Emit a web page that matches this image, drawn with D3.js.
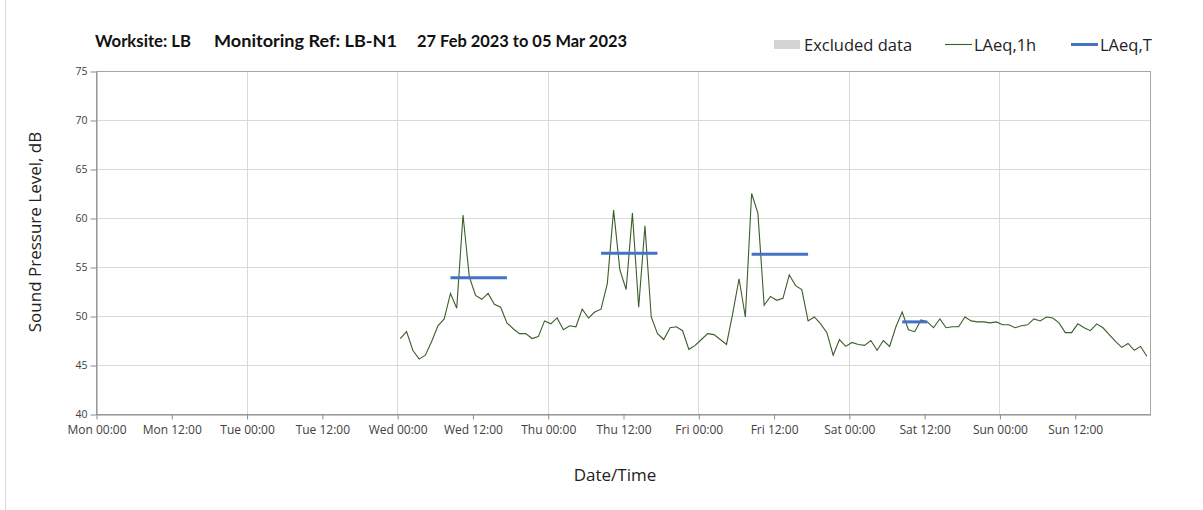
<!DOCTYPE html>
<html>
<head>
<meta charset="utf-8">
<script src="https://cdn.jsdelivr.net/npm/d3@7"></script>
<style>
  body { margin: 0; background: #fff; }
  svg { display: block; font-family: "Open Sans", "Noto Sans", sans-serif; }
</style>
</head>
<body>
<svg id="chart" width="1203" height="510"></svg>
<script>
// hourly LAeq,1h values, first value Wed 01 Mar 00:00 (plotted mid-hour)
const firstHour = "2023-03-01T00:30:00";
const laeq1h = [
  47.7, 48.4, 46.5, 45.6, 46.0, 47.4, 49.0, 49.7, 52.3, 50.8, 60.3, 54.0,
  52.1, 51.7, 52.3, 51.2, 50.9, 49.3, 48.7, 48.2, 48.2, 47.7, 47.9, 49.5,
  49.2, 49.8, 48.6, 49.0, 48.9, 50.7, 49.8, 50.4, 50.7, 53.3, 60.8, 54.7,
  52.7, 60.5, 50.9, 59.2, 49.9, 48.2, 47.6, 48.8, 48.9, 48.5, 46.6, 47.0,
  47.6, 48.2, 48.1, 47.6, 47.1, 50.3, 53.8, 49.9, 62.5, 60.5, 51.1, 52.0,
  51.6, 51.8, 54.2, 53.1, 52.7, 49.5, 49.9, 49.2, 48.3, 46.0, 47.6, 46.9,
  47.3, 47.1, 47.0, 47.5, 46.5, 47.5, 46.9, 48.9, 50.4, 48.6, 48.4, 49.6,
  49.4, 48.8, 49.7, 48.8, 48.9, 48.9, 49.9, 49.5, 49.4, 49.4, 49.3, 49.4,
  49.1, 49.1, 48.8, 49.0, 49.1, 49.7, 49.5, 49.9, 49.8, 49.3, 48.3, 48.3,
  49.2, 48.8, 48.5, 49.2, 48.8, 48.1, 47.4, 46.8, 47.2, 46.5, 46.9, 45.9
];

// LAeq,T working-hour periods
const periodStart = ["2023-03-01T08:30:00", "2023-03-02T08:30:00", "2023-03-03T08:30:00", "2023-03-04T08:30:00"];
const periodEnd   = ["2023-03-01T17:30:00", "2023-03-02T17:30:00", "2023-03-03T17:30:00", "2023-03-04T12:30:00"];
const laeqT = [53.9, 56.4, 56.3, 49.4];

const xDomain = ["2023-02-27T00:00:00", "2023-03-06T00:00:00"];
const yTicks = [40, 45, 50, 55, 60, 65, 70, 75];

const titleParts = ["Worksite: LB", "Monitoring Ref: LB-N1", "27 Feb 2023 to 05 Mar 2023"];
const legendLabels = ["Excluded data", "LAeq,1h", "LAeq,T"];

const svg = d3.select("#chart");
const plot = { left: 96, right: 1150, top: 71, bottom: 414 };

const x = d3.scaleTime()
  .domain(xDomain.map(d => new Date(d)))
  .range([plot.left, plot.right]);
const y = d3.scaleLinear().domain([40, 75]).range([plot.bottom, plot.top]);

const start = new Date(firstHour);
const series = laeq1h.map((v, i) => ({ t: d3.timeHour.offset(start, i), v }));

// outer left edge line
svg.append("line")
  .attr("x1", 5.5).attr("x2", 5.5).attr("y1", 0).attr("y2", 510)
  .attr("stroke", "#d9d9d9");

// gridlines
const dayTicks = d3.timeDay.range(x.domain()[0], x.domain()[1]).slice(1);
svg.append("g").selectAll("line").data(dayTicks).join("line")
  .attr("x1", d => Math.round(x(d)) + 0.5).attr("x2", d => Math.round(x(d)) + 0.5)
  .attr("y1", plot.top).attr("y2", plot.bottom)
  .attr("stroke", "#d9d9d9");
svg.append("g").selectAll("line").data(yTicks.slice(1, -1)).join("line")
  .attr("x1", plot.left).attr("x2", plot.right)
  .attr("y1", d => Math.round(y(d)) + 0.5).attr("y2", d => Math.round(y(d)) + 0.5)
  .attr("stroke", "#d9d9d9");

// plot border
svg.append("rect")
  .attr("x", plot.left + 0.5).attr("y", plot.top + 0.5)
  .attr("width", plot.right - plot.left).attr("height", plot.bottom - plot.top)
  .attr("fill", "none").attr("stroke", "#a6a6a6");

// axes
const fmt = d3.timeFormat("%a %H:%M");
const xTickVals = d3.timeHour.every(12).range(x.domain()[0], x.domain()[1]);
const xAxis = svg.append("g")
  .attr("transform", `translate(0.5,${plot.bottom + 0.5})`)
  .call(d3.axisBottom(x).tickValues(xTickVals).tickFormat(fmt).tickSize(5).tickSizeOuter(0));
xAxis.select(".domain").attr("stroke", "#8c8c8c");
xAxis.selectAll(".tick line").attr("stroke", "#8c8c8c");
xAxis.selectAll("text")
  .attr("font-family", "Open Sans, sans-serif").attr("font-size", 12).attr("fill", "#404040")
  .attr("dy", "0.95em");

const yAxis = svg.append("g")
  .attr("transform", `translate(${plot.left + 0.5},0.5)`)
  .call(d3.axisLeft(y).tickValues(yTicks).tickSize(6).tickSizeOuter(0));
yAxis.select(".domain").attr("stroke", "#8c8c8c");
yAxis.selectAll(".tick line").attr("stroke", "#8c8c8c");
yAxis.selectAll("text")
  .attr("font-family", "Open Sans, sans-serif").attr("font-size", 10.5).attr("fill", "#404040")
  .attr("x", -9);

// LAeq,1h line
svg.append("path")
  .datum(series)
  .attr("fill", "none")
  .attr("stroke", "#3b5e2b")
  .attr("stroke-width", 1.1)
  .attr("d", d3.line().x(d => x(d.t)).y(d => y(d.v)));

// LAeq,T segments
svg.append("g").selectAll("line").data(laeqT).join("line")
  .attr("x1", (d, i) => x(new Date(periodStart[i])))
  .attr("x2", (d, i) => x(new Date(periodEnd[i])))
  .attr("y1", d => y(d)).attr("y2", d => y(d))
  .attr("stroke", "#4472c4").attr("stroke-width", 3);

// title
const titleX = [95, 214, 417];
const titleW = [96, 183, 210];
svg.append("g").selectAll("text").data(titleParts).join("text")
  .attr("x", (d, i) => titleX[i]).attr("y", 47)
  .attr("font-family", "Lato, sans-serif").attr("font-weight", "bold")
  .attr("font-size", 17).attr("fill", "#111")
  .attr("textLength", (d, i) => titleW[i])
  .attr("lengthAdjust", "spacingAndGlyphs")
  .text(d => d);

// legend
const lg = svg.append("g").attr("font-family", "Open Sans, sans-serif").attr("font-size", 16.5).attr("fill", "#222");
lg.append("rect").attr("x", 774).attr("y", 40).attr("width", 26).attr("height", 9).attr("fill", "#d4d4d4");
lg.append("line").attr("x1", 945).attr("x2", 972).attr("y1", 44.5).attr("y2", 44.5)
  .attr("stroke", "#3b5e2b").attr("stroke-width", 1.1);
lg.append("line").attr("x1", 1071).attr("x2", 1098).attr("y1", 44.5).attr("y2", 44.5)
  .attr("stroke", "#4472c4").attr("stroke-width", 3);
const legendX = [804, 974, 1100];
lg.selectAll("text").data(legendLabels).join("text")
  .attr("x", (d, i) => legendX[i]).attr("y", 50.5)
  .text(d => d);

// axis titles
svg.append("text")
  .attr("x", 615).attr("y", 481).attr("text-anchor", "middle")
  .attr("font-size", 17).attr("fill", "#222")
  .text("Date/Time");
svg.append("text")
  .attr("transform", "translate(41,232) rotate(-90)")
  .attr("text-anchor", "middle")
  .attr("font-size", 17).attr("fill", "#222")
  .text("Sound Pressure Level, dB");
</script>
</body>
</html>
